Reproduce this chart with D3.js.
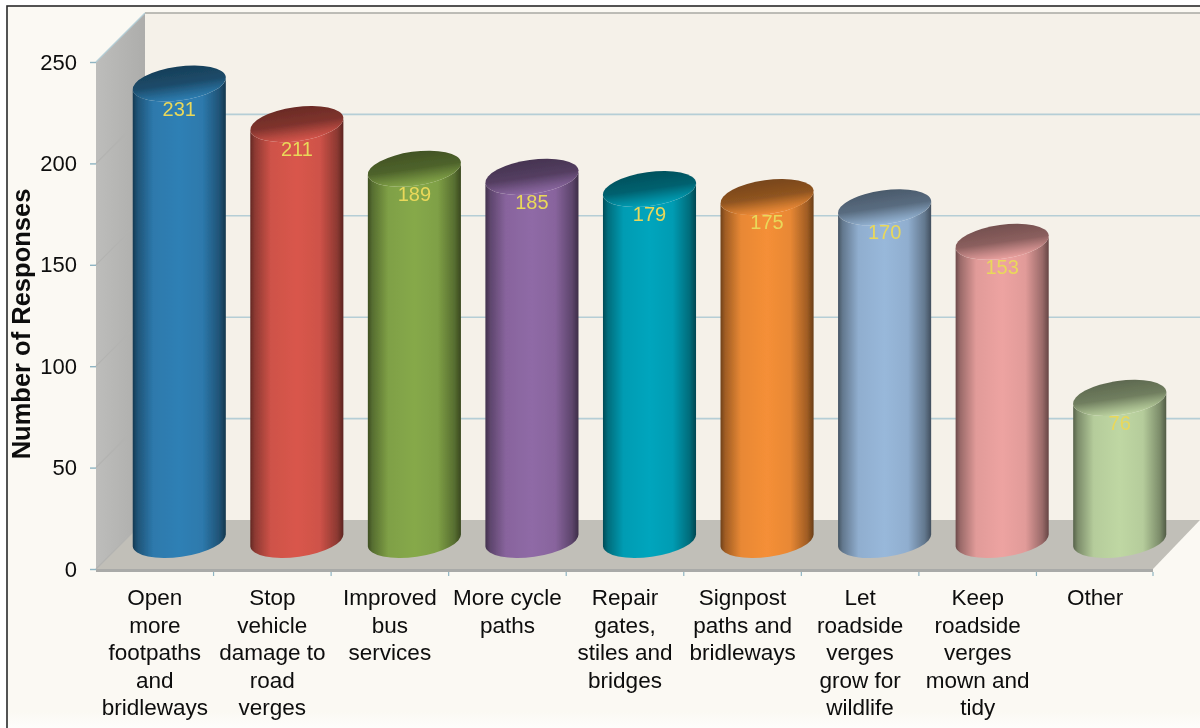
<!DOCTYPE html>
<html>
<head>
<meta charset="utf-8">
<script src="https://cdnjs.cloudflare.com/ajax/libs/d3/7.8.5/d3.min.js"></script>
<style>
  html, body { margin: 0; padding: 0; background: #fff; }
  svg { display: block; font-family: "Liberation Sans", Arial, sans-serif; }
</style>
</head>
<body>
<div id="chart"></div>
<script>
// chart data
const categories = [
    ["Open", "more", "footpaths", "and", "bridleways"],
    ["Stop", "vehicle", "damage to", "road", "verges"],
    ["Improved", "bus", "services"],
    ["More cycle", "paths"],
    ["Repair", "gates,", "stiles and", "bridges"],
    ["Signpost", "paths and", "bridleways"],
    ["Let", "roadside", "verges", "grow for", "wildlife"],
    ["Keep", "roadside", "verges", "mown and", "tidy"],
    ["Other"]
]
const responses = [231, 211, 189, 185, 179, 175, 170, 153, 76]
const barColors = ["#2f80b5", "#d9574c", "#86a94a", "#8f6aa6", "#06a5bd", "#f58f37", "#98b8da", "#eda3a1", "#bfd7a3"]
const yTicks = [0, 50, 100, 150, 200, 250]

const width = 1200, height = 728
const depth = 49
const axisLeft = 96, axisRight = 1154, axisBottom = 569, axisTop = 62

const svg = d3.select("#chart")
    .append("svg")
    .attr("width", width)
    .attr("height", height)

const x = d3.scaleBand()
    .domain(categories.map((d, i) => i))
    .range([axisLeft, axisRight])
    .padding(0)

const y = d3.scaleLinear()
    .domain([0, 250])
    .range([axisBottom, axisTop])

const defs = svg.append("defs")

// soft look of the scanned picture
defs.append("filter").attr("id", "soft")
    .append("feGaussianBlur").attr("stdDeviation", 0.6)

const pageFade = defs.append("linearGradient").attr("id", "page-fade")
    .attr("x1", 0).attr("x2", 0).attr("y1", 0).attr("y2", 1)
pageFade.append("stop").attr("offset", 0.97).attr("stop-color", "#fbf9f3")
pageFade.append("stop").attr("offset", 1).attr("stop-color", "#ffffff")

// left wall is a bit lighter towards the front
const wallFade = defs.append("linearGradient").attr("id", "wall-fade")
wallFade.append("stop").attr("offset", 0).attr("stop-color", "#bdbdbb")
wallFade.append("stop").attr("offset", 1).attr("stop-color", "#adadab")

// one side gradient and one top gradient for every bar
barColors.forEach((color, i) => {
    const c = d3.color(color)
    const side = defs.append("linearGradient").attr("id", `side-${i}`)
    side.append("stop").attr("offset", 0).attr("stop-color", c.darker(2.2))
    side.append("stop").attr("offset", 0.05).attr("stop-color", c.darker(1.2))
    side.append("stop").attr("offset", 0.22).attr("stop-color", c.darker(0.15))
    side.append("stop").attr("offset", 0.5).attr("stop-color", c)
    side.append("stop").attr("offset", 0.75).attr("stop-color", c.darker(0.15))
    side.append("stop").attr("offset", 0.93).attr("stop-color", c.darker(1.2))
    side.append("stop").attr("offset", 1).attr("stop-color", c.darker(2.4))

    const top = defs.append("linearGradient").attr("id", `top-${i}`)
        .attr("x1", 0).attr("x2", 0).attr("y1", 0).attr("y2", 1)
    top.append("stop").attr("offset", 0).attr("stop-color", c.darker(2))
    top.append("stop").attr("offset", 0.5).attr("stop-color", c.darker(1.5))
    top.append("stop").attr("offset", 0.8).attr("stop-color", c.darker(0.5))
    top.append("stop").attr("offset", 1).attr("stop-color", c.darker(0.05))
})

// page and frame
svg.append("rect")
    .attr("x", 7).attr("y", 6)
    .attr("width", width).attr("height", height)
    .attr("fill", "url(#page-fade)")
    .attr("stroke", "#2a2a2a")
    .attr("stroke-width", 1.6)

const plot = svg.append("g").attr("filter", "url(#soft)")

// back wall
plot.append("rect")
    .attr("x", axisLeft + depth).attr("y", axisTop - depth)
    .attr("width", width - axisLeft - depth)
    .attr("height", axisBottom - axisTop)
    .attr("fill", "#f5f1e9")

// left wall
plot.append("path")
    .attr("d", d3.line()([
        [axisLeft, axisTop], [axisLeft + depth, axisTop - depth],
        [axisLeft + depth, axisBottom - depth], [axisLeft, axisBottom]
    ]))
    .attr("fill", "url(#wall-fade)")

// floor
plot.append("path")
    .attr("d", d3.line()([
        [axisLeft, axisBottom], [axisLeft + depth, axisBottom - depth],
        [width, axisBottom - depth], [axisRight - 1, axisBottom]
    ]))
    .attr("fill", "#c1bfb8")
plot.append("rect")
    .attr("x", axisLeft).attr("y", axisBottom)
    .attr("width", axisRight - 1 - axisLeft).attr("height", 3)
    .attr("fill", "#a9aaa8")

// gridlines, back wall and left wall
yTicks.forEach(t => {
    plot.append("line")
        .attr("x1", axisLeft + depth).attr("x2", width)
        .attr("y1", y(t) - depth).attr("y2", y(t) - depth)
        .attr("stroke", t === 0 ? "none" : t === 250 ? "#a8a9a3" : "#b5ced6")
        .attr("stroke-width", 1.6)
    plot.append("line")
        .attr("x1", axisLeft).attr("x2", axisLeft + depth)
        .attr("y1", y(t)).attr("y2", y(t) - depth)
        .attr("stroke", t === 250 ? "#b5ced6" : "#b3b3b1")
        .attr("stroke-width", 1.2)
})

// axes
const yAxis = plot.append("g")
    .attr("transform", `translate(${axisLeft},0)`)
    .call(d3.axisLeft(y).tickValues(yTicks).tickSize(6).tickPadding(13))
yAxis.select(".domain").remove()
yAxis.selectAll("line").attr("stroke", "#8fb4c2").attr("stroke-width", 1.4)
yAxis.selectAll("text")
    .attr("fill", "#0c0c0c")
    .style("font-size", "22px")

const xAxis = plot.append("g")
    .attr("transform", `translate(0,${axisBottom + 3})`)
    .call(d3.axisBottom(x).tickValues([]).tickSize(0))
xAxis.select(".domain").remove()
xAxis.selectAll(".cat-tick")
    .data(x.domain().map(d => x(d)).concat(axisRight - 1).slice(1))
    .join("line")
    .attr("x1", d => d).attr("x2", d => d)
    .attr("y1", 0).attr("y2", 4)
    .attr("stroke", "#8fb4c2")
    .attr("stroke-width", 1.2)

// wrapped category labels
plot.selectAll(".cat-label")
    .data(categories)
    .join("text")
    .attr("class", "cat-label")
    .attr("text-anchor", "middle")
    .attr("fill", "#0c0c0c")
    .style("font-size", "22.5px")
    .each(function (lines, i) {
        d3.select(this).selectAll("tspan")
            .data(lines)
            .join("tspan")
            .attr("x", x(i) + x.bandwidth() / 2)
            .attr("y", (d, j) => 605 + j * 27.5)
            .text(d => d)
    })

// y axis title
plot.append("text")
    .attr("transform", "translate(30,324) rotate(-90)")
    .attr("text-anchor", "middle")
    .attr("font-weight", "bold")
    .attr("fill", "#0c0c0c")
    .style("font-size", "25.5px")
    .text("Number of Responses")

// cylinders
const rx = 47, ry = 17, tilt = -8
const shiftX = 24.5, topLift = 17, baseY = 540

const bars = plot.selectAll(".bar")
    .data(responses)
    .join("g")
    .attr("class", "bar")

function ellipseEnds(cx, cy) {
    const a = tilt * Math.PI / 180
    return [cx - rx * Math.cos(a), cy - rx * Math.sin(a), cx + rx * Math.cos(a), cy + rx * Math.sin(a)]
}

bars.append("path")
    .attr("d", (d, i) => {
        const cx = x(i) + x.bandwidth() / 2 + shiftX
        const t = ellipseEnds(cx, y(d) - topLift)
        const b = ellipseEnds(cx, baseY)
        return `M${t[0]},${t[1]} L${b[0]},${b[1]} A${rx},${ry} ${tilt} 0 0 ${b[2]},${b[3]} ` +
            `L${t[2]},${t[3]} A${rx},${ry} ${tilt} 0 1 ${t[0]},${t[1]} Z`
    })
    .attr("fill", (d, i) => `url(#side-${i})`)

bars.append("ellipse")
    .attr("rx", rx).attr("ry", ry)
    .attr("transform", (d, i) => `translate(${x(i) + x.bandwidth() / 2 + shiftX},${y(d) - topLift}) rotate(${tilt})`)
    .attr("fill", (d, i) => `url(#top-${i})`)

bars.append("text")
    .attr("x", (d, i) => x(i) + x.bandwidth() / 2 + shiftX)
    .attr("y", d => y(d) + 15)
    .attr("text-anchor", "middle")
    .attr("fill", "#e9d85a")
    .style("font-size", "20px")
    .text(d => d)
</script>
</body>
</html>
